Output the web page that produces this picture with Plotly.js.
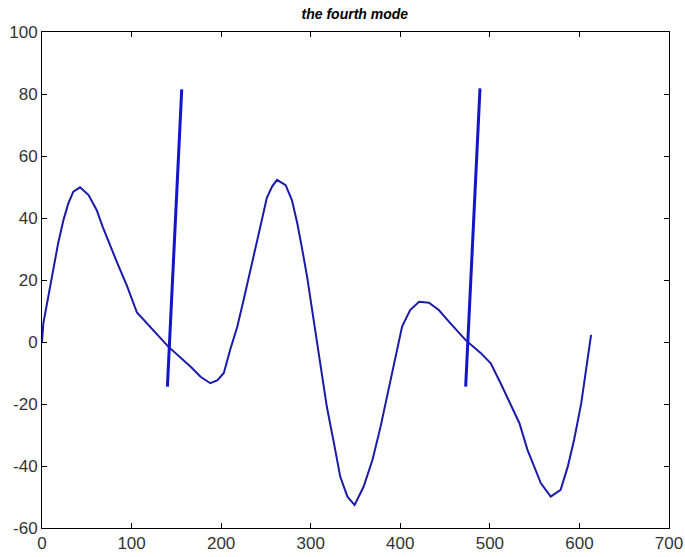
<!DOCTYPE html>
<html>
<head>
<meta charset="utf-8">
<script src="https://cdn.plot.ly/plotly-3.0.1.min.js"></script>
<style>html,body{margin:0;padding:0;background:#fff;}#chart{width:685px;height:557px;}</style>
</head>
<body>
<div id="chart"></div>
<script>
// Main curve
const curveX = [0, 1.5, 7, 12.6, 18, 24, 29.4, 35, 42.5, 52, 61, 68, 76, 84, 95, 106, 141, 166, 177, 188, 196, 203, 210, 218, 225, 233, 238, 244, 251, 257, 262.4, 272, 279, 285, 290, 296, 301.6, 307, 314, 318, 326, 333, 341, 349, 359, 369, 378, 387, 395, 402, 411, 421, 432, 443, 456, 473, 490, 501, 512, 523, 533, 542, 557, 568, 579, 587, 594, 602, 607, 613];
const curveY = [0, 6, 14.6, 23.2, 31.8, 39.4, 44.7, 48.5, 49.9, 47.4, 42.6, 37, 31, 25.5, 18, 9.5, -1.5, -8, -11.2, -13.3, -12.3, -10, -2.6, 4.9, 13.5, 23.2, 29.7, 37.5, 46.5, 50.2, 52.3, 50.6, 45.8, 38.3, 30.7, 21, 10.3, -0.4, -14.4, -20.9, -32.7, -43.5, -49.9, -52.6, -46.7, -38, -27.3, -15.5, -4.2, 5, 10.3, 13, 12.7, 10.3, 6, 0.6, -3.6, -6.9, -13.3, -19.8, -26.2, -34.8, -45.6, -49.9, -47.7, -40.2, -31.6, -19.8, -9, 2.3];
// Spikes
const spike1X = [140, 156];
const spike1Y = [-14.4, 81.5];
const spike2X = [473, 489];
const spike2Y = [-14.4, 81.8];

const xTicks = [0, 100, 200, 300, 400, 500, 600, 700];
const yTicks = [-60, -40, -20, 0, 20, 40, 60, 80, 100];

const traces = [
  {x: curveX, y: curveY, mode: 'lines', line: {color: '#1a1aa8', width: 2}, hoverinfo: 'skip'},
  {x: spike1X, y: spike1Y, mode: 'lines', line: {color: '#1414c8', width: 3}, hoverinfo: 'skip'},
  {x: spike2X, y: spike2Y, mode: 'lines', line: {color: '#1414c8', width: 3}, hoverinfo: 'skip'}
];

const axisCommon = {
  showgrid: false, zeroline: false, showline: true, linecolor: '#000', linewidth: 1,
  mirror: 'ticks', ticks: 'inside', ticklen: 5, tickcolor: '#000', tickwidth: 1,
  tickfont: {family: 'Liberation Sans, Arial, sans-serif', size: 17, color: '#333'}
};

const layout = {
  width: 685, height: 557,
  margin: {l: 42, r: 16, t: 32, b: 29, pad: 0},
  paper_bgcolor: '#fff', plot_bgcolor: '#fff',
  showlegend: false,
  title: {text: '<b><i>the fourth mode</i></b>', x: 0.518, xanchor: 'center', y: 0.975, yanchor: 'middle',
          font: {family: 'Liberation Sans, Arial, sans-serif', size: 14, color: '#000'}},
  xaxis: Object.assign({}, axisCommon, {range: [0, 700], tickvals: xTicks, ticktext: xTicks.map(String)}),
  yaxis: Object.assign({}, axisCommon, {range: [-60, 100], tickvals: yTicks, ticktext: yTicks.map(String)})
};

Plotly.newPlot('chart', traces, layout, {staticPlot: true, displayModeBar: false});
</script>
</body>
</html>
